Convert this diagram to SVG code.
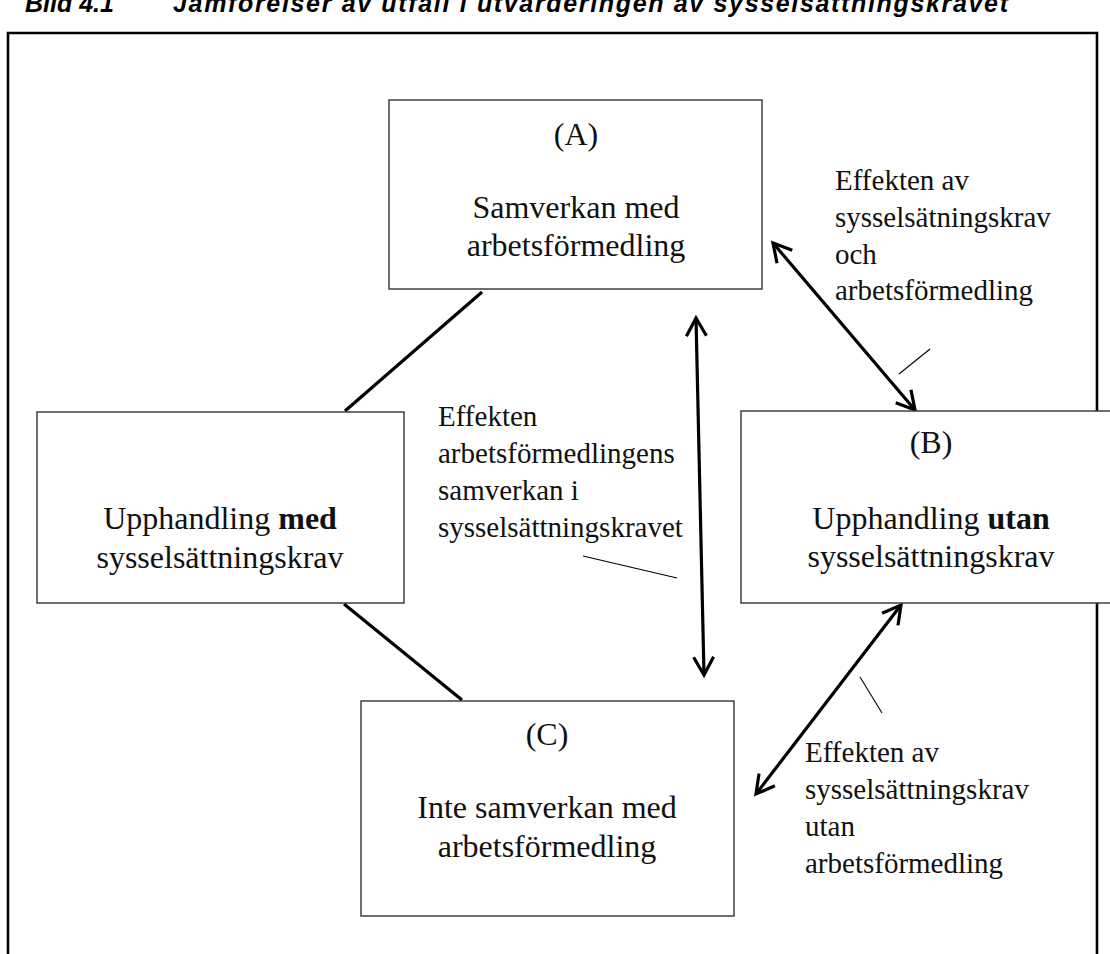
<svg xmlns="http://www.w3.org/2000/svg" width="1110" height="954" viewBox="0 0 1110 954">
<style>
.box{fill:#fff;stroke:#333;stroke-width:1.4}
.t{font-family:"Liberation Serif",serif;font-size:32px;fill:#111;text-anchor:middle}
.lbl{font-family:"Liberation Serif",serif;font-size:29px;fill:#111}
.conn{stroke:#000;stroke-width:3.2;fill:none}
.arr{stroke:#000;stroke-width:3.2;fill:none;marker-start:url(#ah);marker-end:url(#ah)}
.lead{stroke:#000;stroke-width:1.1}
.title{font-family:"Liberation Sans",Arial,sans-serif;font-size:25px;font-weight:bold;font-style:italic;fill:#000}
</style>
<defs>
<marker id="ah" viewBox="-22 -13 26 26" markerWidth="26" markerHeight="26" refX="0" refY="0" orient="auto-start-reverse" markerUnits="userSpaceOnUse">
<path d="M-18,-10 L0,0 L-18,10" fill="none" stroke="#000" stroke-width="3.2" stroke-linejoin="miter"/>
</marker>
</defs>
<rect width="1110" height="954" fill="#fff"/>
<g id="title">
<text class="title" x="25" y="12">Bild 4.1</text>
<text class="title" x="173" y="12" textLength="835" lengthAdjust="spacing">Jämförelser av utfall i utvärderingen av sysselsättningskravet</text>
</g>
<g id="frame">
<path d="M8,954 V33 H1097 V954" fill="none" stroke="#000" stroke-width="2.6"/>
</g>
<g id="connectors">
<line class="conn" x1="482" y1="292" x2="345" y2="411"/>
<line class="conn" x1="344" y1="604" x2="462" y2="700"/>
<line class="arr" x1="773" y1="243" x2="915" y2="410"/>
<line class="arr" x1="696" y1="318" x2="704" y2="675"/>
<line class="arr" x1="901" y1="605" x2="756" y2="794"/>
<line class="lead" x1="899" y1="374" x2="930" y2="349"/>
<line class="lead" x1="583" y1="556" x2="677" y2="578"/>
<line class="lead" x1="860" y1="677" x2="882" y2="713"/>
</g>
<g id="nodeA">
<rect class="box" x="389" y="100" width="373" height="189"/>
<text class="t" x="576" y="145">(A)</text>
<text class="t" x="576" y="218">Samverkan med</text>
<text class="t" x="576" y="256">arbetsförmedling</text>
</g>
<g id="nodeMed">
<rect class="box" x="37" y="412" width="367" height="191"/>
<text class="t" x="220" y="529">Upphandling <tspan font-weight="bold">med</tspan></text>
<text class="t" x="220" y="568">sysselsättningskrav</text>
</g>
<g id="nodeB">
<rect class="box" x="741" y="411" width="380" height="192"/>
<text class="t" x="931" y="453">(B)</text>
<text class="t" x="931" y="529">Upphandling <tspan font-weight="bold">utan</tspan></text>
<text class="t" x="931" y="567">sysselsättningskrav</text>
</g>
<g id="nodeC">
<rect class="box" x="361" y="701" width="373" height="215"/>
<text class="t" x="547" y="745">(C)</text>
<text class="t" x="547" y="818">Inte samverkan med</text>
<text class="t" x="547" y="857">arbetsförmedling</text>
</g>
<g id="labelAB">
<text class="lbl" x="835" y="190">Effekten av</text>
<text class="lbl" x="835" y="227">sysselsätningskrav</text>
<text class="lbl" x="835" y="264">och</text>
<text class="lbl" x="835" y="300">arbetsförmedling</text>
</g>
<g id="labelAC">
<text class="lbl" x="438" y="426">Effekten</text>
<text class="lbl" x="438" y="463">arbetsförmedlingens</text>
<text class="lbl" x="438" y="500">samverkan i</text>
<text class="lbl" x="438" y="537">sysselsättningskravet</text>
</g>
<g id="labelBC">
<text class="lbl" x="805" y="762">Effekten av</text>
<text class="lbl" x="805" y="799">sysselsättningskrav</text>
<text class="lbl" x="805" y="836">utan</text>
<text class="lbl" x="805" y="873">arbetsförmedling</text>
</g>
</svg>
